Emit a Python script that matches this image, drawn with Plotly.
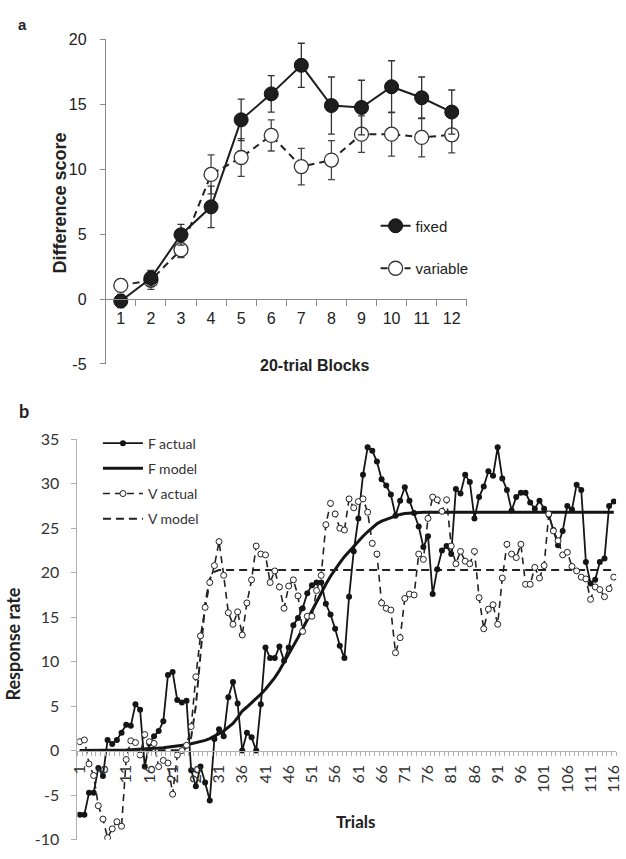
import plotly.graph_objects as go

# ---------------- Panel a data ----------------
blocks = list(range(1, 13))
fixed_mean = [-0.15, 1.6, 4.95, 7.1, 13.8, 15.8, 18.0, 14.9, 14.75, 16.35, 15.5, 14.4]
fixed_err = [0.5, 0.6, 0.8, 1.6, 1.6, 1.4, 1.7, 2.2, 2.1, 2.0, 1.6, 1.7]
var_mean = [1.05, 1.45, 3.8, 9.6, 10.9, 12.6, 10.2, 10.7, 12.7, 12.7, 12.45, 12.65]
var_err = [0.5, 0.7, 0.6, 1.5, 1.45, 1.2, 1.4, 1.5, 1.4, 1.7, 1.5, 1.4]
a_yticks = [-5, 0, 5, 10, 15, 20]

# ---------------- Panel b data ----------------
trials = list(range(1, 117))
trial_ticks = list(range(1, 117, 5))
b_yticks = list(range(-10, 36, 5))
f_actual = [
    -7.2, -7.2, -4.75, -4.75, -1.95, -2.85, 1.2, 0.75, 1.2, 2.0,
    2.9, 2.8, 5.2, 4.6, -1.8, 0.8, 1.6, 2.2, 3.3, 8.5,
    8.85, 5.7, 5.4, 5.6, -2.2, -4.0, -1.8, -3.6, -5.6, 1.3,
    2.4, 1.6, 6.0, 7.7, 5.3, 0.0, 2.0, 1.5, 0.0, 5.2,
    11.6, 10.4, 10.4, 11.7, 10.1, 11.6, 14.1, 14.9, 16.0, 17.7,
    18.6, 18.9, 18.9, 16.5, 15.3, 13.7, 11.8, 10.4, 17.3, 22.4,
    26.1, 31.0, 34.1, 33.7, 32.5, 30.5, 29.8, 28.8, 26.4, 28.1,
    29.6, 28.1, 26.7, 25.2, 22.9, 24.1, 17.6, 20.4, 22.5, 23.0,
    22.1, 29.4, 28.9, 31.0, 30.2, 26.1, 28.5, 29.7, 31.4, 30.9,
    34.1, 30.6, 29.3, 27.0, 28.5, 29.0, 29.0, 27.9, 27.2, 28.1,
    27.2, 26.5, 24.8, 23.1, 24.7, 27.5, 27.1, 29.9, 29.3, 21.2,
    18.8, 19.2, 21.2, 21.6, 27.5, 28.0,
]
f_model = [
    0.0, 0.0, 0.0, 0.0, 0.0, 0.02, 0.03, 0.04, 0.05, 0.06,
    0.08, 0.1, 0.12, 0.14, 0.17, 0.2, 0.24, 0.28, 0.33, 0.38,
    0.44, 0.5, 0.58, 0.66, 0.76, 0.88, 1.0, 1.15, 1.35, 1.6,
    1.9, 2.2, 2.6, 3.05, 3.7, 4.45, 4.9, 5.35, 5.85, 6.35,
    6.9, 7.5, 8.2, 9.0, 9.9, 10.8, 11.7, 12.7, 13.7, 14.7,
    15.8, 16.8, 17.8, 18.7, 19.6, 20.4, 21.1, 21.8, 22.4, 23.0,
    23.6, 24.1, 24.6, 25.1, 25.5, 25.8, 26.0, 26.2, 26.4, 26.55,
    26.65, 26.7, 26.75, 26.8, 26.8, 26.8, 26.8, 26.8, 26.8, 26.8,
    26.8, 26.8, 26.8, 26.8, 26.8, 26.8, 26.8, 26.8, 26.8, 26.8,
    26.8, 26.8, 26.8, 26.8, 26.8, 26.8, 26.8, 26.8, 26.8, 26.8,
    26.8, 26.8, 26.8, 26.8, 26.8, 26.8, 26.8, 26.8, 26.8, 26.8,
    26.8, 26.8, 26.8, 26.8, 26.8, 26.8,
]
v_actual = [
    1.0, 1.2, -1.5, -2.8, -6.2, -7.7, -9.8, -8.8, -8.0, -8.5,
    -1.0, 1.1, 0.9, -0.5, 1.8, 1.0, 0.8, -1.8, -1.1, -1.4,
    -4.9, -0.5, 0.0, 0.6, 2.7, 8.3, 12.9, 16.1, 18.9, 20.8,
    23.5, 19.7, 15.5, 14.2, 15.6, 13.0, 16.6, 19.2, 23.0, 22.1,
    22.0, 18.9, 20.2, 18.4, 16.0, 18.5, 19.2, 17.4, 13.4, 15.1,
    15.1, 18.0, 19.7, 25.4, 27.8, 26.6, 25.0, 24.8, 28.3, 27.3,
    28.0, 28.3, 26.8, 23.3, 22.1, 16.6, 16.0, 15.8, 11.0, 12.7,
    17.1, 17.6, 17.5, 22.1, 21.5, 26.1, 28.5, 28.2, 26.9, 28.2,
    23.0, 21.0, 22.4, 21.3, 21.0, 22.4, 17.2, 13.7, 15.9, 16.4,
    14.2, 19.4, 23.2, 22.1, 21.7, 23.2, 18.7, 18.7, 20.6, 19.4,
    20.8, 26.6, 24.7, 23.6, 22.0, 22.3, 20.7, 20.2, 19.5, 19.3,
    17.0, 18.4, 18.1, 17.3, 18.2, 19.5,
]
v_model = [
    0.0, 0.0, 0.0, 0.0, 0.0, 0.0, 0.0, 0.0, 0.0, 0.0,
    0.0, 0.0, 0.0, 0.0, 0.0, 0.0, 0.0, 0.0, 0.0, 0.0,
    0.0, 0.0, 0.05, 0.3, 1.5, 5.0, 11.0, 16.5, 19.3, 20.1,
    20.3, 20.3, 20.3, 20.3, 20.3, 20.3, 20.3, 20.3, 20.3, 20.3,
    20.3, 20.3, 20.3, 20.3, 20.3, 20.3, 20.3, 20.3, 20.3, 20.3,
    20.3, 20.3, 20.3, 20.3, 20.3, 20.3, 20.3, 20.3, 20.3, 20.3,
    20.3, 20.3, 20.3, 20.3, 20.3, 20.3, 20.3, 20.3, 20.3, 20.3,
    20.3, 20.3, 20.3, 20.3, 20.3, 20.3, 20.3, 20.3, 20.3, 20.3,
    20.3, 20.3, 20.3, 20.3, 20.3, 20.3, 20.3, 20.3, 20.3, 20.3,
    20.3, 20.3, 20.3, 20.3, 20.3, 20.3, 20.3, 20.3, 20.3, 20.3,
    20.3, 20.3, 20.3, 20.3, 20.3, 20.3, 20.3, 20.3, 20.3, 20.3,
    20.3, 20.3, 20.3, 20.3, 20.3, 20.3,
]

# ---------------- layout helpers ----------------
W, H = 626, 859


def fx(p):
    return p / W


def fy(p):
    return 1 - p / H


def zero_pos(dom, rng):
    return dom[0] + (0 - rng[0]) / (rng[1] - rng[0]) * (dom[1] - dom[0])


A_FONT = "Liberation Sans, Arial, sans-serif"
B_FONT = "Lato, Open Sans, sans-serif"

xa_dom = [fx(100), fx(469.3)]
ya_dom = [fy(362), fy(30)]
ya_rng = [-5, 20]
xb_dom = [fx(71), fx(622)]
yb_dom = [fy(848.3), fy(439)]
yb_rng = [-10, 35]

fig = go.Figure()

# Panel a traces
fig.add_trace(go.Scatter(
    x=blocks, y=var_mean, name="variable", mode="lines+markers",
    line=dict(color="#222222", width=2, dash="7px,5px"),
    marker=dict(size=14, color="white", line=dict(color="#333333", width=1.3)),
    error_y=dict(type="data", array=var_err, color="#444444", thickness=1.3, width=3.5),
    xaxis="x", yaxis="y", legend="legend", legendrank=2, legendgroup="var",
))
fig.add_trace(go.Scatter(
    x=blocks, y=fixed_mean, name="fixed", mode="lines+markers",
    line=dict(color="#1e1e1e", width=2),
    marker=dict(size=14, color="#1e1e1e", line=dict(color="#111111", width=1)),
    error_y=dict(type="data", array=fixed_err, color="#333333", thickness=1.3, width=3.5),
    xaxis="x", yaxis="y", legend="legend", legendrank=1, legendgroup="fix",
))

# Panel b traces
fig.add_trace(go.Scatter(
    x=trials, y=f_model, name="F model", mode="lines",
    line=dict(color="#151515", width=3),
    xaxis="x2", yaxis="y2", legend="legend2", legendrank=2, legendgroup="fm",
))
fig.add_trace(go.Scatter(
    x=trials, y=v_model, name="V model", mode="lines",
    line=dict(color="#222222", width=2, dash="8px,5px"),
    xaxis="x2", yaxis="y2", legend="legend2", legendrank=4, legendgroup="vm",
))
fig.add_trace(go.Scatter(
    x=trials, y=f_actual, name="F actual", mode="lines+markers",
    line=dict(color="#151515", width=1.8),
    marker=dict(size=6, color="#151515"),
    xaxis="x2", yaxis="y2", legend="legend2", legendrank=1, legendgroup="fa",
))
fig.add_trace(go.Scatter(
    x=trials, y=v_actual, name="V actual", mode="lines+markers",
    line=dict(color="#222222", width=1.6, dash="7px,5px"),
    marker=dict(size=6, color="white", line=dict(color="#222222", width=1)),
    xaxis="x2", yaxis="y2", legend="legend2", legendrank=3, legendgroup="va",
))

fig.update_layout(
    width=W, height=H,
    margin=dict(l=0, r=0, t=0, b=0),
    paper_bgcolor="white", plot_bgcolor="rgba(0,0,0,0)",
    showlegend=True,
    xaxis=dict(
        domain=xa_dom, range=[0.5, 12.5], anchor="free",
        position=zero_pos(ya_dom, ya_rng),
        showline=True, linecolor="#8a8a8a", linewidth=1,
        tickmode="array", tickvals=blocks, ticktext=[str(b) for b in blocks],
        ticks="", ticklabelstandoff=5,
        minor=dict(tickmode="array", tickvals=[b - 0.5 for b in blocks] + [12.5],
                   ticks="outside", ticklen=6, tickcolor="#8a8a8a"),
        tickfont=dict(family=A_FONT, size=16, color="#222222"),
        showgrid=False, zeroline=False,
    ),
    yaxis=dict(
        domain=ya_dom, range=ya_rng, anchor="x",
        showline=True, linecolor="#8a8a8a", linewidth=1,
        tickmode="array", tickvals=a_yticks, ticktext=[str(v) for v in a_yticks],
        ticks="outside", ticklen=5, tickcolor="#8a8a8a", ticklabelstandoff=10,
        tickfont=dict(family=A_FONT, size=16, color="#222222"),
        showgrid=False, zeroline=False,
    ),
    xaxis2=dict(
        domain=xb_dom, range=[0.5, 116.5], anchor="free",
        position=zero_pos(yb_dom, yb_rng),
        showline=True, linecolor="#b0b0b0", linewidth=1,
        tickmode="array", tickvals=trial_ticks, ticktext=[str(t) for t in trial_ticks],
        ticks="", tickangle=-90, ticklabelstandoff=7, ticklabeloverflow="allow",
        minor=dict(tickmode="array", tickvals=[t - 0.5 for t in trials] + [116.5],
                   ticks="outside", ticklen=4, tickcolor="#b0b0b0"),
        tickfont=dict(family=B_FONT, size=16, color="#333333"),
        showgrid=False, zeroline=False,
    ),
    yaxis2=dict(
        domain=yb_dom, range=yb_rng, anchor="x2",
        showline=True, linecolor="#b0b0b0", linewidth=1,
        tickmode="array", tickvals=b_yticks, ticktext=[str(v) for v in b_yticks],
        ticks="outside", ticklen=5, tickcolor="#b0b0b0", ticklabelstandoff=9,
        tickfont=dict(family=B_FONT, size=16, color="#333333"),
        showgrid=False, zeroline=False,
    ),
    legend=dict(
        x=fx(376), y=fy(204), xanchor="left", yanchor="top",
        bgcolor="rgba(0,0,0,0)", traceorder="grouped",
        font=dict(family=A_FONT, size=15, color="#222222"),
        tracegroupgap=20, itemwidth=30,
    ),
    legend2=dict(
        x=fx(92), y=fy(427), xanchor="left", yanchor="top",
        bgcolor="rgba(0,0,0,0)", traceorder="grouped",
        font=dict(family=B_FONT, size=14, color="#333333"),
        tracegroupgap=4, itemwidth=40,
    ),
)

annotations = [
    dict(text="a", x=fx(8), y=fy(15), xanchor="left", yanchor="middle",
         font=dict(family=A_FONT, size=15, color="#222222", weight="bold")),
    dict(text="Difference score", x=fx(53), y=fy(197), textangle=-90,
         xanchor="center", yanchor="middle",
         font=dict(family=A_FONT, size=18, color="#222222", weight="bold")),
    dict(text="20-trial Blocks", x=fx(313), y=fy(364), xanchor="center", yanchor="middle",
         font=dict(family=A_FONT, size=16, color="#222222", weight="bold")),
    dict(text="b", x=fx(9), y=fy(410), xanchor="left", yanchor="middle",
         font=dict(family=B_FONT, size=18, color="#222222", weight="bold")),
    dict(text="Response rate", x=fx(5), y=fy(648), textangle=-90,
         xanchor="center", yanchor="middle",
         font=dict(family=B_FONT, size=18, color="#222222", weight="bold")),
    dict(text="Trials", x=fx(355), y=fy(830), xanchor="center", yanchor="middle",
         font=dict(family=B_FONT, size=17, color="#222222", weight="bold")),
]
for a in annotations:
    a.update(xref="paper", yref="paper", showarrow=False)
fig.update_layout(annotations=annotations)

fig.write_html("out.html")
